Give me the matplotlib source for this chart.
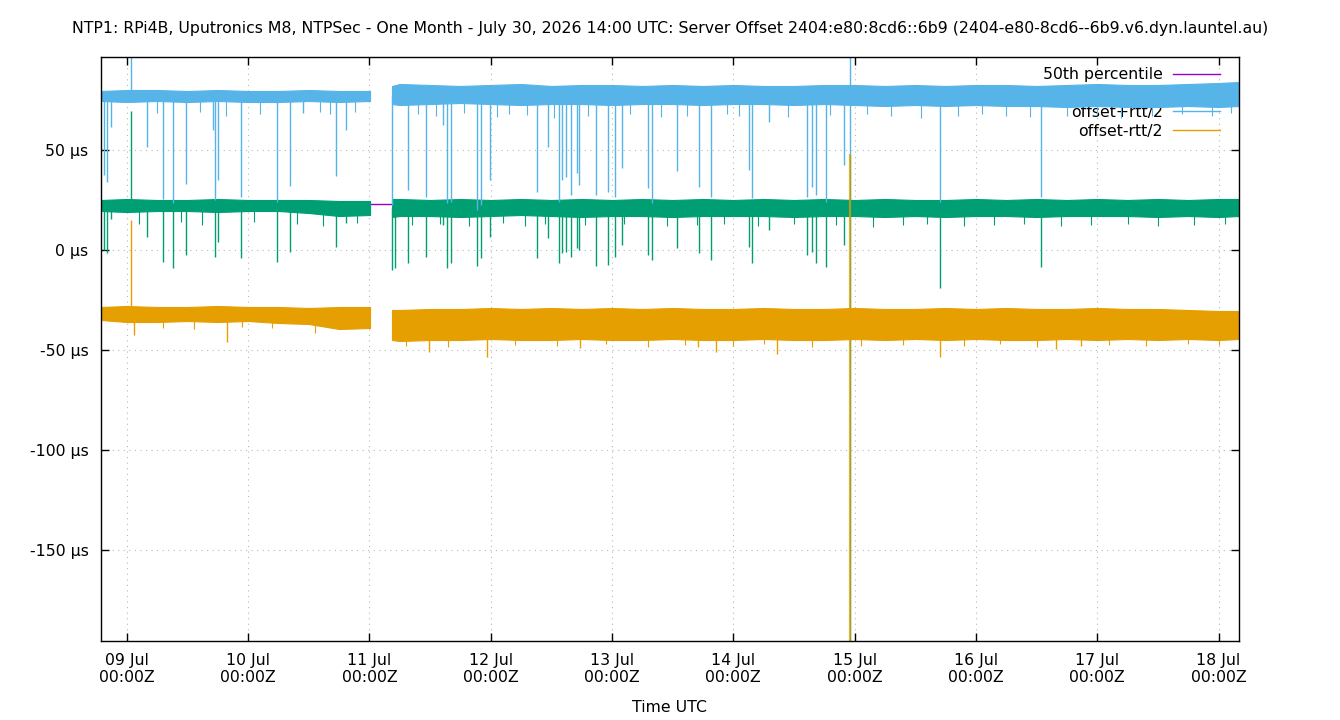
import numpy as np
import matplotlib
matplotlib.use("Agg")
import matplotlib.pyplot as plt
import matplotlib.dates as mdates
from matplotlib.lines import Line2D

# ---------------- data (days relative to 2026-07-09 00:00 UTC, values in µs) ----------------
BASE = np.datetime64("2026-07-09T00:00:00")
x_range_days = [-0.213, 9.169]

# band envelopes, segment 1 (before the gap) and segment 2 (after the gap)
t1 = [-0.213, 0.0, 0.25, 0.5, 0.75, 1.0, 1.25, 1.5, 1.75, 2.005]
t2 = [2.186, 2.25, 2.5, 2.75, 3.0, 3.25, 3.5, 3.75, 4.0, 4.25, 4.5, 4.75, 5.0, 5.25,
      5.5, 5.75, 6.0, 6.25, 6.5, 6.75, 7.0, 7.25, 7.5, 7.75, 8.0, 8.25, 8.5, 8.75, 9.0, 9.17]

plus_hi1 = [79.5, 80, 80, 79.5, 80, 79.5, 79.5, 80, 79.5, 79.5]
plus_lo1 = [74.5, 74, 74.5, 74, 74.5, 74, 74, 74.5, 74, 74.5]
plus_hi2 = [82, 83, 82.5, 82, 82.5, 83, 82, 82.5, 82.5, 82, 82.5, 82, 82.5, 82, 82,
            82.5, 82.5, 82, 82.5, 82, 82.5, 82.5, 82, 82.5, 83, 82.5, 82.5, 83, 83.5, 84]
plus_lo2 = [73, 72.5, 73, 73.5, 73, 72.5, 73, 73, 72.5, 73, 73, 72.5, 73, 73, 72.5,
            73, 72.5, 72, 72.5, 72, 72.5, 72, 72, 71.5, 72, 71.5, 71.5, 72, 71.5, 72]

off_hi1 = [25, 25.5, 25, 25, 25.5, 25, 25, 25, 24.5, 24.5]
off_lo1 = [19.5, 19, 19.5, 19.5, 19, 19.5, 19.5, 18.5, 17, 17.5]
off_hi2 = [25.5, 25.5, 25, 25.5, 25, 25.5, 25, 25.5, 25, 25.5, 25, 25.5, 25, 25.5, 25,
           25.5, 25, 25.5, 25, 25, 25.5, 25, 25.5, 25, 25.5, 25, 25.5, 25, 25.5, 25.5]
off_lo2 = [16.5, 17, 17, 16.5, 17, 17.5, 17, 16.5, 17, 17, 16.5, 17, 17, 17, 16.5,
           17, 17, 16.5, 17, 16.5, 17, 17, 16.5, 17, 17, 17, 16.5, 17, 16.5, 17]

minus_hi1 = [-28.5, -28, -28.5, -28.5, -28, -28.5, -28.5, -29, -28.5, -28.5]
minus_lo1 = [-35, -36, -36, -35.5, -36, -35.5, -36.5, -37, -39.5, -39]
minus_hi2 = [-30, -30, -29.5, -29.5, -29, -29.5, -29, -29.5, -29, -29.5, -29, -29.5, -29.5,
             -29, -29.5, -29.5, -29, -29.5, -29.5, -29, -29.5, -29, -29.5, -29.5, -29,
             -29.5, -29.5, -30, -30.5, -30.5]
minus_lo2 = [-45, -45.5, -45, -45, -44.5, -45, -45, -44.5, -45, -45, -44.5, -45, -45,
             -44.5, -45, -45, -44.5, -45, -44.5, -45, -44.5, -45, -45, -44.5, -45,
             -44.5, -45, -44.5, -45, -44.5]

# individual spikes (time in days, value in µs)
plus_spk_t = [-0.188, -0.163, -0.130, 0.035, 0.167, 0.298, 0.381, 0.488, 0.710, 0.727, 0.752,
              0.941, 1.238, 1.345, 1.453, 1.725, 1.807, 2.186, 2.318, 2.467, 2.607, 2.640,
              2.673, 2.887, 2.920, 2.994, 3.382, 3.472, 3.563, 3.588, 3.621, 3.662, 3.712,
              3.728, 3.868, 3.967, 4.025, 4.083, 4.297, 4.330, 4.536, 4.717, 4.816, 5.130,
              5.154, 5.294, 5.607, 5.649, 5.682, 5.764, 5.913, 5.962, 5.962, 6.705, 7.537]
plus_spk_v = [37.5, 34, 61.5, 150, 51.5, 25.5, 23.5, 33, 60, 25, 35,
              26.5, 24, 32, 68.5, 37, 60, 22.5, 30, 26.5, 62.5, 23.5,
              24, 20, 22.5, 35, 29, 51.5, 24, 35, 36.5, 27.5, 38.5,
              32.5, 27.5, 29, 26.5, 41, 31, 23.5, 39.5, 31.5, 26.5, 40,
              26, 64, 26.5, 31.5, 27.5, 24, 42.5, 200, 48, 24, 26.5]
# short fringe spikes below the blue band
plus_fr_t = [0.25, 0.605, 0.82, 1.10, 1.59, 1.675, 1.88, 2.40, 2.55, 2.78, 3.05, 3.15, 3.30,
             3.52, 3.80, 4.15, 4.40, 4.62, 4.95, 5.05, 5.45, 5.80, 6.10, 6.30, 6.55, 6.85,
             7.05, 7.25, 7.45, 7.75, 8.00, 8.20, 8.45, 8.70, 8.95, 9.10]
plus_fr_v = [68.5, 69, 67, 68, 69, 68, 69, 68, 67, 68.5, 66.5, 68, 67.5,
             66, 67, 68, 66.5, 67, 68, 67, 66.5, 67.5, 68, 67, 66, 67,
             68, 67, 66.5, 67, 68, 66, 67, 68, 67, 68.5]

off_spk_t = [-0.188, -0.163, -0.130, 0.035, 0.167, 0.298, 0.381, 0.488, 0.727, 0.752, 0.941,
             1.238, 1.345, 1.725, 1.807, 2.186, 2.211, 2.318, 2.467, 2.607, 2.640, 2.673,
             2.887, 2.920, 2.994, 3.382, 3.472, 3.563, 3.588, 3.621, 3.662, 3.712, 3.728,
             3.868, 3.967, 4.025, 4.083, 4.297, 4.330, 4.536, 4.717, 4.816, 5.130, 5.154,
             5.294, 5.607, 5.649, 5.682, 5.764, 5.913, 5.962, 5.962, 6.705, 7.537]
off_spk_v = [0, -1.5, 15.5, 69.5, 6.5, -6, -9, -2.5, -3.5, 4, -4,
             -6, -1, 1.5, 13.5, -10, -9, -6.5, -3.5, 12.5, -9, -6.5,
             -8, -4, 6.5, -4, 6, -6.5, -1.5, -1, -3.5, 1, 0,
             -8, -7.5, -3.5, 2.5, -2.5, -5, 1, -1.5, -5, 1.5, -6.5,
             10, -2.5, -1, -6.5, -8.5, 2.5, -400, 48, -19, -8.5]
# short fringe spikes below the green band
off_fr_t = [0.10, 0.45, 0.62, 1.05, 1.40, 1.62, 1.90, 2.35, 2.58, 2.82, 3.10, 3.28, 3.45,
            3.78, 4.10, 4.45, 4.70, 4.92, 5.20, 5.50, 5.85, 6.15, 6.40, 6.60, 6.90, 7.15,
            7.40, 7.70, 7.95, 8.25, 8.50, 8.80, 9.05]
off_fr_v = [13, 14, 12.5, 14, 13, 12, 13.5, 12.5, 13, 12, 13.5, 12, 13,
            12.5, 13, 12, 12.5, 13, 12, 13, 12.5, 11.5, 12.5, 13, 12, 12.5,
            13, 12, 12.5, 13, 12, 12.5, 13]

minus_spk_t = [0.035, 0.060, 0.826, 2.492, 2.970, 3.737, 4.709, 4.857, 5.360, 6.705, 7.661, 7.867]
minus_spk_v = [15, -42.5, -46, -51, -53.5, -49, -48.5, -51, -52, -53.5, -49.5, -48]
# short fringe spikes below the orange band
minus_fr_t = [0.30, 0.55, 0.95, 1.20, 1.55, 2.30, 2.65, 3.20, 3.55, 3.95, 4.30, 4.60, 5.00,
              5.25, 5.65, 6.05, 6.40, 6.90, 7.20, 7.50, 8.10, 8.40, 8.75, 9.00]
minus_fr_v = [-39, -39.5, -38.5, -39, -41.5, -48, -48.5, -47.5, -48, -47, -48.5, -47.5, -48,
              -47, -48.5, -48, -47.5, -48, -47, -48.5, -47.5, -48, -47, -47.5]
minus_event_t = [5.962]
minus_event_lo = [-400]
minus_event_hi = [48]

p50_value = 23.0

# ---------------- styling ----------------
C_P50 = "#9400d3"
C_OFF = "#009e73"
C_PLUS = "#56b4e9"
C_MINUS = "#e69f00"
FS = 11.3

plt.rcParams["font.family"] = ["DejaVu Sans"]
plt.rcParams["font.size"] = FS


def to_dt(days):
    d = np.asarray(days, dtype=float)
    return BASE + (d * 86400).round().astype("timedelta64[s]")


fig = plt.figure(figsize=(13.4, 7.2), dpi=100)
ax = fig.add_axes([101 / 1340, 1 - 641 / 720, (1239 - 101) / 1340, (641 - 57) / 720])

# percentile line (drawn first, underneath everything)
ax.axhline(p50_value, color=C_P50, lw=1.0, zorder=1.6)


def draw_series(tsegs, his, los, spk_sets, color, z):
    all_t, all_mid = [], []
    for t, hi, lo in zip(tsegs, his, los):
        tt = to_dt(t)
        ax.fill_between(tt, lo, hi, color=color, lw=0.8, edgecolor=color, zorder=z)
        all_t.extend(t)
        all_mid.extend(((np.array(hi) + np.array(lo)) / 2).tolist())
    order = np.argsort(all_t)
    for spk_t, spk_v, lw in spk_sets:
        mids = np.interp(spk_t, np.array(all_t)[order], np.array(all_mid)[order])
        v = np.array(spk_v, dtype=float)
        ax.vlines(to_dt(spk_t), np.minimum(v, mids), np.maximum(v, mids),
                  color=color, lw=lw, zorder=z)


draw_series([t1, t2], [off_hi1, off_hi2], [off_lo1, off_lo2],
            [(off_spk_t, off_spk_v, 1.0), (off_fr_t, off_fr_v, 0.8)], C_OFF, 2.0)
draw_series([t1, t2], [plus_hi1, plus_hi2], [plus_lo1, plus_lo2],
            [(plus_spk_t, plus_spk_v, 1.0), (plus_fr_t, plus_fr_v, 0.8)], C_PLUS, 2.2)
draw_series([t1, t2], [minus_hi1, minus_hi2], [minus_lo1, minus_lo2],
            [(minus_spk_t, minus_spk_v, 1.0), (minus_fr_t, minus_fr_v, 0.8)], C_MINUS, 2.4)
ax.vlines(to_dt(minus_event_t), minus_event_lo, minus_event_hi, color=C_MINUS, lw=1.6,
          alpha=0.75, zorder=2.5)

# axes
ax.set_xlim(to_dt([x_range_days[0]])[0], to_dt([x_range_days[1]])[0])
ax.set_ylim(-195.5, 96.5)
ax.set_yticks([50, 0, -50, -100, -150])
ax.set_yticklabels(["50 µs", "0 µs", "-50 µs", "-100 µs", "-150 µs"])
ax.xaxis.set_major_locator(mdates.DayLocator())
ax.xaxis.set_major_formatter(mdates.DateFormatter("%d %b\n%H:%MZ"))
ax.tick_params(direction="in", length=6, width=1, top=True, right=True, labelsize=FS)
ax.tick_params(axis="x", pad=9)
ax.tick_params(axis="y", pad=9)
for lab in ax.get_xticklabels():
    lab.set_linespacing(1.1)
ax.grid(True, color="#b8b8b8", lw=0.8, ls=(0, (1, 4)))
ax.set_axisbelow(True)
for s in ax.spines.values():
    s.set_linewidth(1.0)

ax.set_xlabel("Time UTC", fontsize=FS, labelpad=11)
fig.text(0.5, 1 - 29 / 720, "NTP1: RPi4B, Uputronics M8, NTPSec - One Month - July 30, 2026 14:00 UTC: "
         "Server Offset 2404:e80:8cd6::6b9 (2404-e80-8cd6--6b9.v6.dyn.launtel.au)",
         ha="center", va="center", fontsize=FS)

handles = [Line2D([], [], color=C_P50, lw=1),
           Line2D([], [], color=C_OFF, lw=1),
           Line2D([], [], color=C_PLUS, lw=1),
           Line2D([], [], color=C_MINUS, lw=1)]
labels = ["50th percentile", "local clock time offset", "offset+rtt/2", "offset-rtt/2"]
leg = ax.legend(handles, labels, loc="upper right", frameon=False, markerfirst=False,
                handlelength=3.0, handletextpad=0.65, labelspacing=0.25, borderaxespad=0.0,
                borderpad=0.0, fontsize=FS,
                bbox_to_anchor=((1220 - 101) / 1138, (641 - 67) / 584))
leg.set_zorder(1.5)

fig.savefig("out.png", dpi=100)
